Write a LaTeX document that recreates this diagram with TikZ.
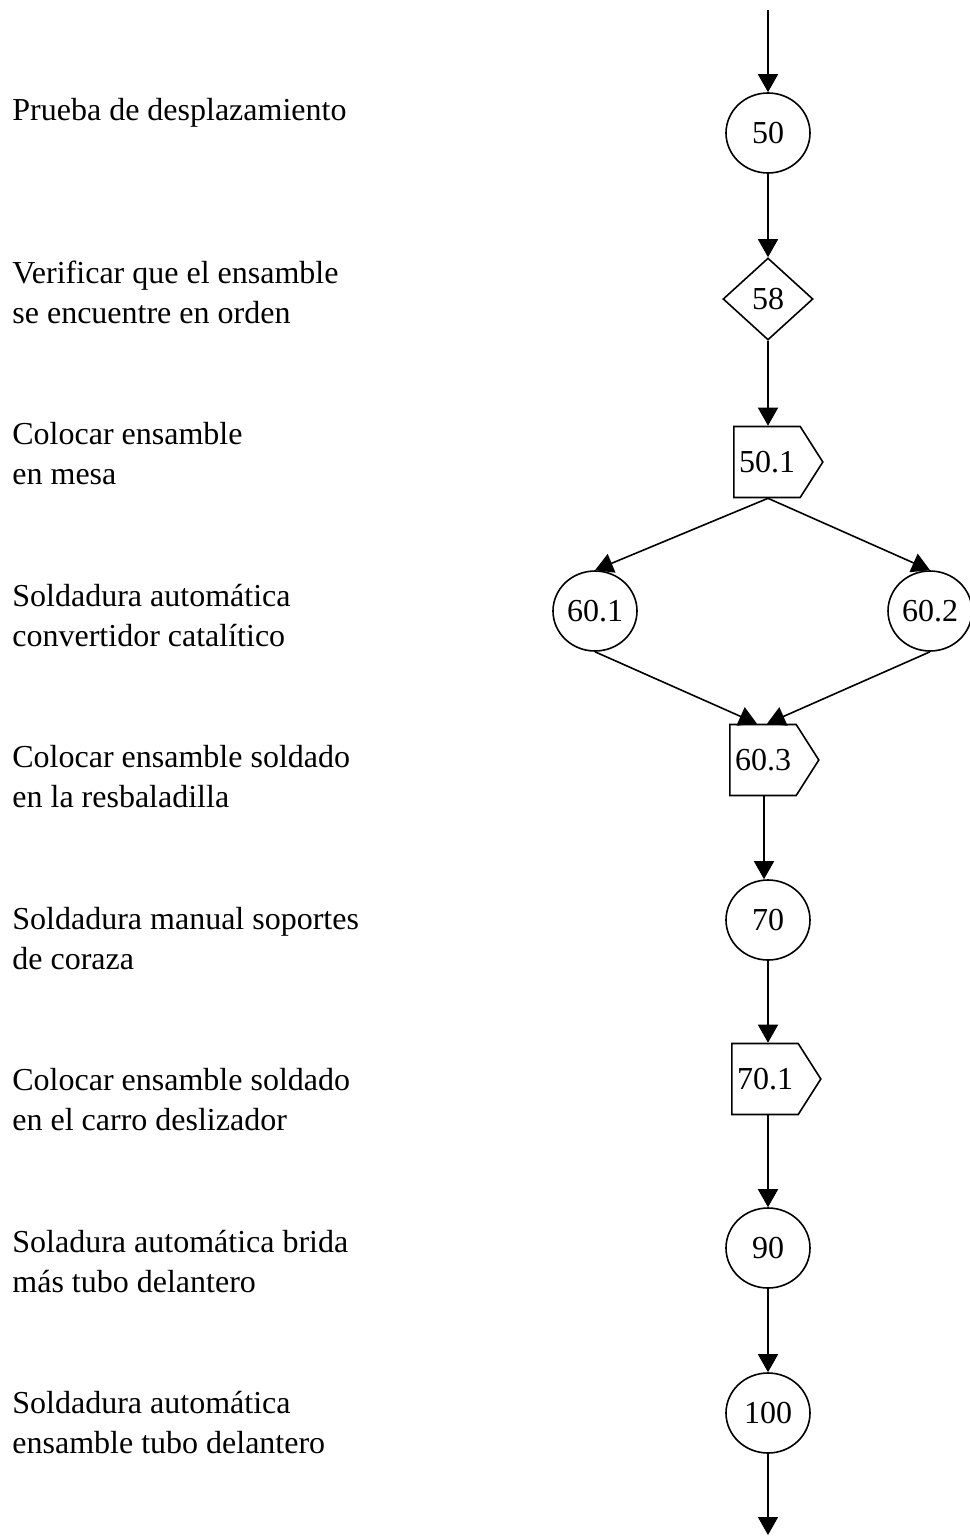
\documentclass[tikz,border=0pt]{standalone}
\usepackage{fontspec}
\setmainfont{Liberation Serif}
\usetikzlibrary{positioning,arrows.meta,shapes.geometric,shapes.symbols}

\begin{document}
\begin{tikzpicture}[
  x=0.5pt, y=-0.5pt,
  font=\fontsize{16}{20}\selectfont,
  oper/.style={draw, ellipse, line width=0.8pt, minimum width=42pt,
               minimum height=40pt, inner sep=0pt},
  check/.style={draw, diamond, line width=0.8pt, minimum width=45pt,
                minimum height=41pt, inner sep=0pt},
  carry/.style={draw, signal, signal to=east, signal pointer angle=115,
                line width=0.8pt, minimum width=44.5pt, minimum height=35.5pt,
                inner sep=0pt},
  link/.style={-{Triangle[length=9pt,width=10pt]}, line width=0.8pt},
  desc/.style={anchor=base west, align=left, inner sep=0pt},
]
  \useasboundingbox (0,0) rectangle (969,1536);

  % process column
  \node[oper]  (n50)  at (768,133)  {50};
  \node[check] (n58)  at (768,299)  {58};
  \node[carry] (n501) at (767,462)  {50.1};
  \node[oper]  (n601) at (595,611)  {60.1};
  \node[oper]  (n602) at (930,611)  {60.2};
  \node[carry] (n603) at (763,760)  {60.3};
  \node[oper]  (n70)  at (768,920)  {70};
  \node[carry] (n701) at (765,1079) {70.1};
  \node[oper]  (n90)  at (768,1248) {90};
  \node[oper]  (n100) at (768,1413) {100};
  \coordinate (in)  at (768,10);
  \coordinate (out) at (768,1535);

  \draw[link] (in) -- (n50);
  \draw[link] (n50) -- (n58);
  \draw[link] (n58) -- (n58 |- n501.north);
  \draw[link] (n58 |- n501.south) -- (n601.north);
  \draw[link] (n58 |- n501.south) -- (n602.north);
  \draw[link] (n601.south) -- ([xshift=-5.5pt]n70 |- n603.north);
  \draw[link] (n602.south) -- ([xshift=-0.5pt]n70 |- n603.north);
  \draw[link] ([xshift=-2pt]n70 |- n603.south) -- ([xshift=-2pt]n70.north);
  \draw[link] (n70) -- (n70 |- n701.north);
  \draw[link] (n70 |- n701.south) -- (n90);
  \draw[link] (n90) -- (n100);
  \draw[link] (n100) -- (out);

  % descriptions (base = last line)
  \node[desc] (d50)  at (12,120)    {Prueba de desplazamiento};
  \node[desc] (d58)  at (12,323)    {Verificar que el ensamble\\se encuentre en orden};
  \node[desc] (d501) at (12,484.5)  {Colocar ensamble\\en mesa};
  \node[desc] (d60)  at (12,646)    {Soldadura automática\\convertidor catalítico};
  \node[desc] (d603) at (12,807.5)  {Colocar ensamble soldado\\en la resbaladilla};
  \node[desc] (d70)  at (12,969)    {Soldadura manual soportes\\de coraza};
  \node[desc] (d701) at (12,1130.5) {Colocar ensamble soldado\\en el carro deslizador};
  \node[desc] (d90)  at (12,1292)   {Soladura automática brida\\más tubo delantero};
  \node[desc] (d100) at (12,1453.5) {Soldadura automática\\ensamble tubo delantero};
\end{tikzpicture}
\end{document}
